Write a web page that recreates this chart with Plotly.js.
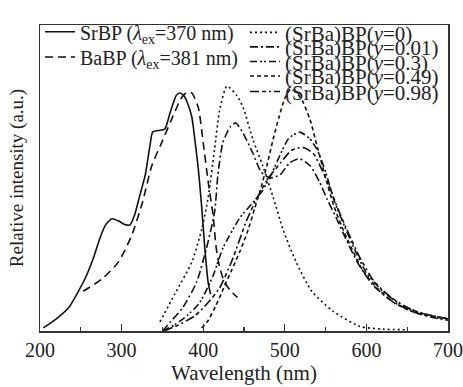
<!DOCTYPE html>
<html>
<head>
<meta charset="utf-8">
<script src="https://cdn.plot.ly/plotly-3.0.1.min.js"></script>
<style>html,body{margin:0;padding:0;background:#fff;}#chart{width:463px;height:387px;}</style>
</head>
<body>
<div id="chart"></div>
<script>
// ---- Data (wavelength in nm, relative intensity in a.u., normalised to axis height) ----
const srbpX = [204, 220, 235, 255, 265, 273, 280, 288, 296, 304, 310, 316, 322, 329, 335, 338, 345, 353, 359, 364, 367, 371, 376, 380, 386, 390, 394, 398, 402, 406, 409];
const srbpY = [0.01, 0.04, 0.076, 0.17, 0.235, 0.30, 0.345, 0.367, 0.36, 0.348, 0.346, 0.38, 0.44, 0.51, 0.61, 0.65, 0.655, 0.66, 0.71, 0.75, 0.77, 0.778, 0.77, 0.75, 0.70, 0.62, 0.53, 0.41, 0.27, 0.16, 0.12];

const babpX = [253, 276, 296, 312, 325, 337, 349, 361, 373, 380, 386, 394, 400, 406, 412, 416, 420, 426, 434, 442];
const babpY = [0.13, 0.17, 0.225, 0.31, 0.415, 0.54, 0.615, 0.69, 0.76, 0.78, 0.778, 0.73, 0.615, 0.49, 0.38, 0.27, 0.21, 0.16, 0.13, 0.11];

const y0X = [347, 365, 386, 398, 406, 414, 420, 429, 441, 449, 461, 473, 486, 498, 514, 533, 559, 592, 620, 650];
const y0Y = [0.03, 0.12, 0.225, 0.33, 0.435, 0.595, 0.72, 0.80, 0.77, 0.73, 0.625, 0.54, 0.435, 0.33, 0.225, 0.13, 0.065, 0.015, 0.006, 0.004];

const y001X = [350, 355, 375, 392, 404, 414, 418, 424, 433, 440, 449, 461, 471, 482, 494, 506, 518, 531, 542, 552, 563, 575, 590, 608, 630, 655, 680, 700];
const y001Y = [0.0, 0.015, 0.077, 0.16, 0.27, 0.39, 0.51, 0.615, 0.667, 0.68, 0.646, 0.58, 0.52, 0.50, 0.51, 0.55, 0.563, 0.54, 0.49, 0.43, 0.37, 0.30, 0.22, 0.15, 0.10, 0.065, 0.045, 0.035];

const y03X = [350, 365, 380, 395, 412, 424, 445, 461, 473, 485, 495, 505, 518, 530, 540, 550, 560, 572, 585, 600, 620, 640, 665, 700];
const y03Y = [0.0, 0.02, 0.05, 0.09, 0.18, 0.27, 0.37, 0.42, 0.46, 0.52, 0.58, 0.63, 0.65, 0.63, 0.59, 0.52, 0.43, 0.35, 0.27, 0.19, 0.13, 0.09, 0.06, 0.04];

const y049X = [398, 405, 415, 425, 435, 445, 455, 463, 470, 478, 486, 493, 500, 507, 514, 522, 531, 540, 550, 560, 570, 582, 595, 613, 635, 660, 685, 700];
const y049Y = [0.01, 0.03, 0.08, 0.14, 0.20, 0.26, 0.33, 0.40, 0.46, 0.54, 0.63, 0.70, 0.76, 0.79, 0.78, 0.75, 0.69, 0.60, 0.50, 0.41, 0.34, 0.27, 0.20, 0.14, 0.09, 0.06, 0.045, 0.04];

const y098X = [352, 370, 390, 405, 420, 436, 453, 466, 480, 495, 508, 522, 535, 545, 555, 565, 578, 592, 610, 630, 655, 680, 700];
const y098Y = [0.0, 0.02, 0.05, 0.09, 0.14, 0.235, 0.36, 0.435, 0.50, 0.55, 0.59, 0.60, 0.58, 0.53, 0.47, 0.40, 0.32, 0.24, 0.16, 0.11, 0.07, 0.05, 0.04];

const seriesNames = [
  'SrBP (<i>λ</i><sub>ex</sub>=370 nm)',
  'BaBP (<i>λ</i><sub>ex</sub>=381 nm)',
  '(SrBa)BP(<i>y</i>=0)',
  '(SrBa)BP(<i>y</i>=0.01)',
  '(SrBa)BP(<i>y</i>=0.3)',
  '(SrBa)BP(<i>y</i>=0.49)',
  '(SrBa)BP(<i>y</i>=0.98)'
];
const xTickVals = [200, 300, 400, 500, 600, 700];
const xTickText = ['200', '300', '400', '500', '600', '700'];

// ---- Styles ----
const FONT = 'Liberation Serif, Times New Roman, serif';
const xs = [srbpX, babpX, y0X, y001X, y03X, y049X, y098X];
const ys = [srbpY, babpY, y0Y, y001Y, y03Y, y049Y, y098Y];
const dashes = ['solid', '8px,5px', '2px,3px', '8px,3px,2px,3px', '7px,3px,2px,2px,2px,3px', '4px,3px', '9px,3px,4px,3px,2px,3px'];
const legendIds = ['legend', 'legend2', 'legend3', 'legend4', 'legend5', 'legend6', 'legend7'];

const traces = xs.map((x, i) => ({
  x: x, y: ys[i], type: 'scatter', mode: 'lines', name: seriesNames[i],
  line: {color: '#111', width: 1.6, dash: dashes[i], shape: 'spline', smoothing: 0.6},
  legend: legendIds[i]
}));

// legend row positions (pixel centres -> paper)
const plotTop = 15, plotBottom = 331, plotLeft = 40, plotRight = 448;
function py(p) { return (plotBottom - p) / (plotBottom - plotTop); }
function px(p) { return (p - plotLeft) / (plotRight - plotLeft); }
const legRows = [[40, 22], [40, 48], [245, 23], [245, 38], [245, 53], [245, 68], [245, 84]];
const legSizes = [20, 20, 21, 21, 21, 21, 21];

const layout = {
  width: 463, height: 387,
  margin: {l: plotLeft, r: 463 - plotRight, t: plotTop, b: 387 - plotBottom},
  paper_bgcolor: '#fff', plot_bgcolor: '#fff',
  font: {family: FONT, color: '#222', size: 19},
  showlegend: true,
  xaxis: {
    range: [200, 700], tickvals: xTickVals, ticktext: xTickText,
    ticks: 'inside', ticklen: 7, tickwidth: 1.3, tickcolor: '#333',
    minor: {dtick: 50, tick0: 200, ticks: 'inside', ticklen: 4, tickwidth: 1.2, tickcolor: '#333', showgrid: false},
    showline: true, linecolor: '#333', linewidth: 1.5, mirror: true,
    showgrid: false, zeroline: false,
    tickfont: {family: FONT, size: 20, color: '#222'},
    ticklabelstandoff: 0,
    title: {text: 'Wavelength (nm)', font: {family: FONT, size: 21, color: '#222'}, standoff: 6}
  },
  yaxis: {
    range: [0, 1], showticklabels: false, ticks: '',
    showline: true, linecolor: '#333', linewidth: 1.5, mirror: true,
    showgrid: false, zeroline: false,
    title: {text: 'Relative intensity (a.u.)', font: {family: FONT, size: 19, color: '#222'}, standoff: 10}
  }
};
legendIds.forEach((id, i) => {
  layout[id] = {
    x: px(legRows[i][0]), y: py(legRows[i][1]), xanchor: 'left', yanchor: 'middle',
    bgcolor: 'rgba(0,0,0,0)', borderwidth: 0,
    font: {family: FONT, size: legSizes[i], color: '#222'}, itemwidth: 30
  };
});

Plotly.newPlot('chart', traces, layout, {displayModeBar: false, staticPlot: true});
</script>
</body>
</html>
